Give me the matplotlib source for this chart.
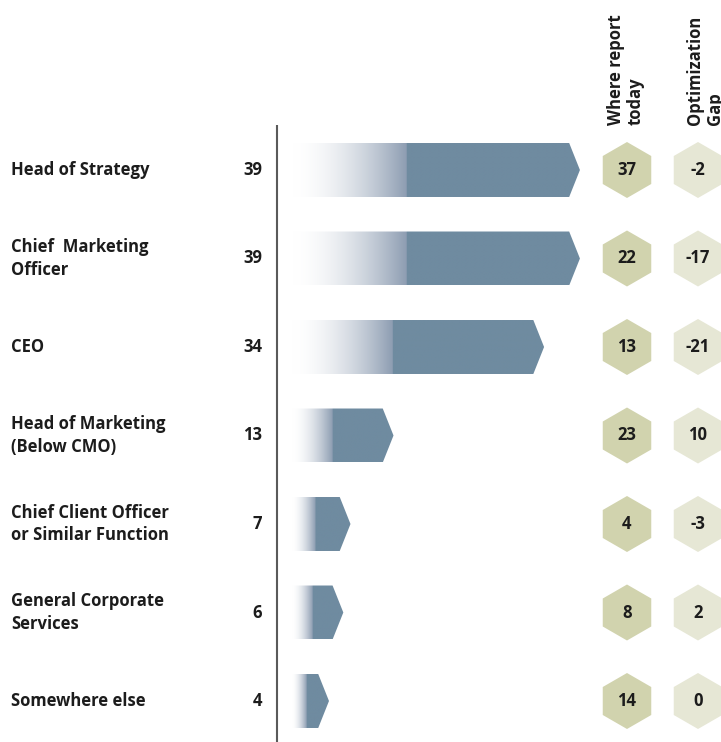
import matplotlib.pyplot as plt
import numpy as np
from matplotlib.patches import Polygon
from matplotlib.colors import to_rgb

# data
roles = ['Head of Strategy', 'Chief  Marketing\nOfficer', 'CEO',
         'Head of Marketing\n(Below CMO)', 'Chief Client Officer\nor Similar Function',
         'General Corporate\nServices', 'Somewhere else']
ideal = [39, 39, 34, 13, 7, 6, 4]
report_today = [37, 22, 13, 23, 4, 8, 14]
opt_gap = [-2, -17, -21, 10, -3, 2, 0]
headers = ['Where report\ntoday', 'Optimization\nGap']

bar_col = '#6f8ba0'
hex1_col = '#d1d3ae'
hex2_col = '#e6e7d5'
txt_col = '#1c1c1c'

plt.rcParams['font.family'] = ['Open Sans', 'DejaVu Sans']

W, H = 721, 742
fig = plt.figure(figsize=(W / 100, H / 100), dpi=100)
ax = fig.add_axes([0, 0, 1, 1])

# scale: x in value units, y in row units
px_per_unit = 7.17
x0_px = 300.3
row0_px, row_px = 170, 88.5
ax.set_xlim(-x0_px / px_per_unit, (W - x0_px) / px_per_unit)
ax.set_ylim((H - row0_px) / row_px, -row0_px / row_px)
ax.axis('off')

def px2x(p):
    return (p - x0_px) / px_per_unit

bar_h = 0.61
tip = 1.5
start = px2x(292)
n = len(roles)

for i in range(n):
    v = ideal[i]
    y = i
    verts = [(start, y - bar_h / 2), (v - tip, y - bar_h / 2), (v, y),
             (v - tip, y + bar_h / 2), (start, y + bar_h / 2)]
    poly = Polygon(verts, closed=True, facecolor='none', edgecolor='none')
    ax.add_patch(poly)
    # gradient fill: white -> blue-grey over first 40% of the bar
    m = 256
    t = np.linspace(0, 1, m)
    frac = 0.4
    g = np.clip(t / frac, 0, 1) ** 1.8
    c_end = np.array(to_rgb('#8c9cb1'))
    c_sol = np.array(to_rgb(bar_col))
    rgb = np.ones((m, 3)) * (1 - g[:, None]) + c_end * g[:, None]
    rgb[t >= frac] = c_sol
    img = rgb[None, :, :]
    im = ax.imshow(img, extent=[start, v, y + bar_h / 2, y - bar_h / 2],
                   aspect='auto', interpolation='bilinear', zorder=2)
    im.set_clip_path(poly)

    ax.text(px2x(11), y, roles[i], ha='left', va='center', fontsize=12,
            fontweight='bold', color=txt_col, linespacing=1.3)
    ax.text(px2x(262), y, str(v), ha='right', va='center', fontsize=12,
            fontweight='bold', color=txt_col)

# vertical axis line
ax.plot([px2x(276.5)] * 2, [(125 - row0_px) / row_px, (H - row0_px) / row_px],
        color='#5a5a5a', lw=1.5, solid_capstyle='butt', zorder=3)

# hexagons
rows = np.arange(n)
hx1 = px2x(627)
hx2 = px2x(698)
ms = (28 * 2 * 0.72) ** 2
ax.scatter([hx1] * n, rows, s=ms, marker='h', color=hex1_col, edgecolors='none', zorder=3)
ax.scatter([hx2] * n, rows, s=ms, marker='h', color=hex2_col, edgecolors='none', zorder=3)
for i in range(n):
    ax.text(hx1, i, str(report_today[i]), ha='center', va='center', fontsize=12,
            fontweight='bold', color=txt_col, zorder=4)
    ax.text(hx2, i, str(opt_gap[i]), ha='center', va='center', fontsize=12,
            fontweight='bold', color=txt_col, zorder=4)

# column headers
hy = (125 - row0_px) / row_px
ax.text(px2x(626), hy, headers[0], rotation=90, ha='center', va='bottom', fontsize=12,
        fontweight='bold', color=txt_col, multialignment='left', linespacing=1.1)
ax.text(px2x(705), hy, headers[1], rotation=90, ha='center', va='bottom', fontsize=12,
        fontweight='bold', color=txt_col, multialignment='left', linespacing=1.1)

fig.savefig('out.png', dpi=100)
